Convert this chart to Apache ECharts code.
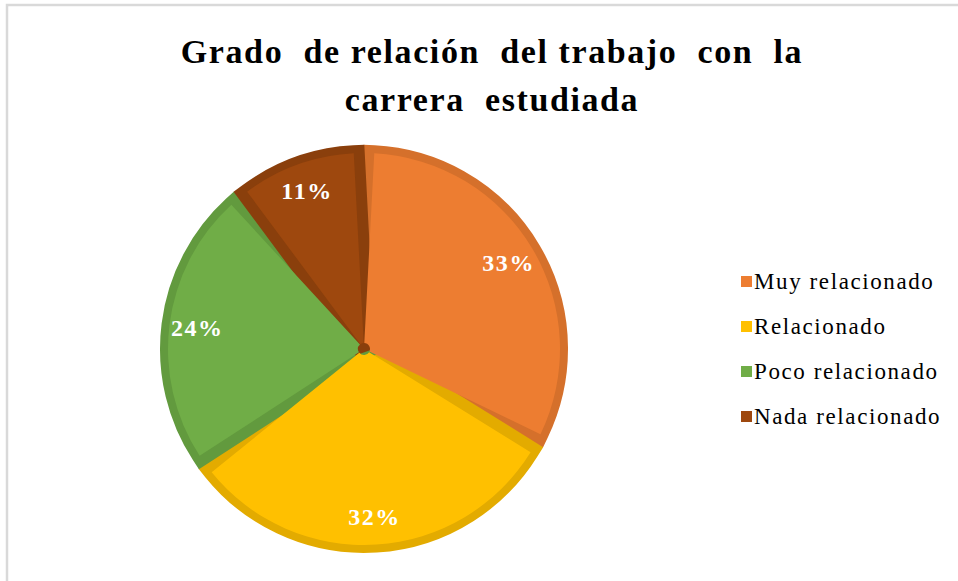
<!DOCTYPE html>
<html>
<head>
<meta charset="utf-8">
<title>Grado de relación del trabajo con la carrera estudiada</title>
<script src="https://cdn.jsdelivr.net/npm/echarts@6/dist/echarts.min.js"></script>
<style>
  html, body { margin: 0; padding: 0; background: #fff; }
  #chart { width: 958px; height: 581px; }
  /* el original tiene el texto algo espaciado */
  #chart text { letter-spacing: 1.6px; }
</style>
</head>
<body>
<div id="chart"></div>
<script>
// datos
const categories = ["Muy relacionado", "Relacionado", "Poco relacionado", "Nada relacionado"];
const values = [33, 32, 24, 11];
const fillColors = ["#ED7D31", "#FFC000", "#70AD47", "#9E480E"];
const edgeColors = ["#D5702B", "#E3AB00", "#629A3E", "#8A3F0C"];

const serif = '"Liberation Serif", "Times New Roman", serif';
const center = [364, 349];
const pad = 6;

const fillData = categories.map((name, i) => ({
  name: name,
  value: values[i],
  itemStyle: { color: fillColors[i] },
}));
const edgeData = categories.map((name, i) => ({
  name: name,
  value: values[i],
  itemStyle: { color: edgeColors[i], borderColor: edgeColors[i] },
}));

const chart = echarts.init(document.getElementById("chart"), null, { renderer: "svg" });

chart.setOption({
  backgroundColor: "#fff",
  animation: false,
  title: {
    text: "Grado  de relación  del trabajo  con  la\ncarrera  estudiada",
    left: 487,
    top: 22,
    textAlign: "center",
    textStyle: {
      fontFamily: serif,
      fontWeight: "bold",
      fontSize: 34,
      lineHeight: 48,
      color: "#000",
    },
  },
  legend: {
    orient: "vertical",
    left: 736,
    top: 264,
    icon: "rect",
    itemWidth: 11,
    itemHeight: 11,
    itemGap: 20,
    data: categories,
    textStyle: {
      fontFamily: serif,
      fontSize: 23,
      lineHeight: 25,
      color: "#000",
      padding: [0, 0, 0, -3],
    },
  },
  graphic: [
    {
      type: "rect",
      shape: { x: 7, y: 5, width: 1200, height: 1200 },
      style: { fill: "none", stroke: "#d9d9d9", lineWidth: 2.5 },
      silent: true,
    },
  ],
  series: [
    {
      // relleno claro de cada sector
      name: "relleno",
      type: "pie",
      z: 2,
      center: center,
      radius: [6, 196],
      startAngle: 90,
      padAngle: pad,
      label: { show: false },
      labelLine: { show: false },
      emphasis: { disabled: true },
      data: fillData,
    },
    {
      // borde oscuro: mismo trazado con un contorno grueso que cierra los huecos
      name: "borde",
      type: "pie",
      z: 1,
      center: center,
      radius: [0, 193],
      startAngle: 90,
      padAngle: pad,
      itemStyle: { borderWidth: 22, borderJoin: "miter", borderMiterLimit: 2 },
      label: { show: false },
      labelLine: { show: false },
      emphasis: { disabled: true },
      data: edgeData,
    },
    {
      // etiquetas de porcentaje
      name: "etiquetas",
      type: "pie",
      z: 3,
      silent: true,
      center: center,
      radius: [126, 204],
      startAngle: 90,
      padAngle: pad,
      itemStyle: { color: "transparent" },
      label: {
        show: true,
        position: "inside",
        formatter: "{c}%",
        fontFamily: serif,
        fontWeight: "bold",
        fontSize: 24,
        color: "#fff",
      },
      labelLine: { show: false },
      emphasis: { disabled: true },
      data: values.map((v, i) => ({ name: categories[i], value: v })),
    },
  ],
});
</script>
</body>
</html>
